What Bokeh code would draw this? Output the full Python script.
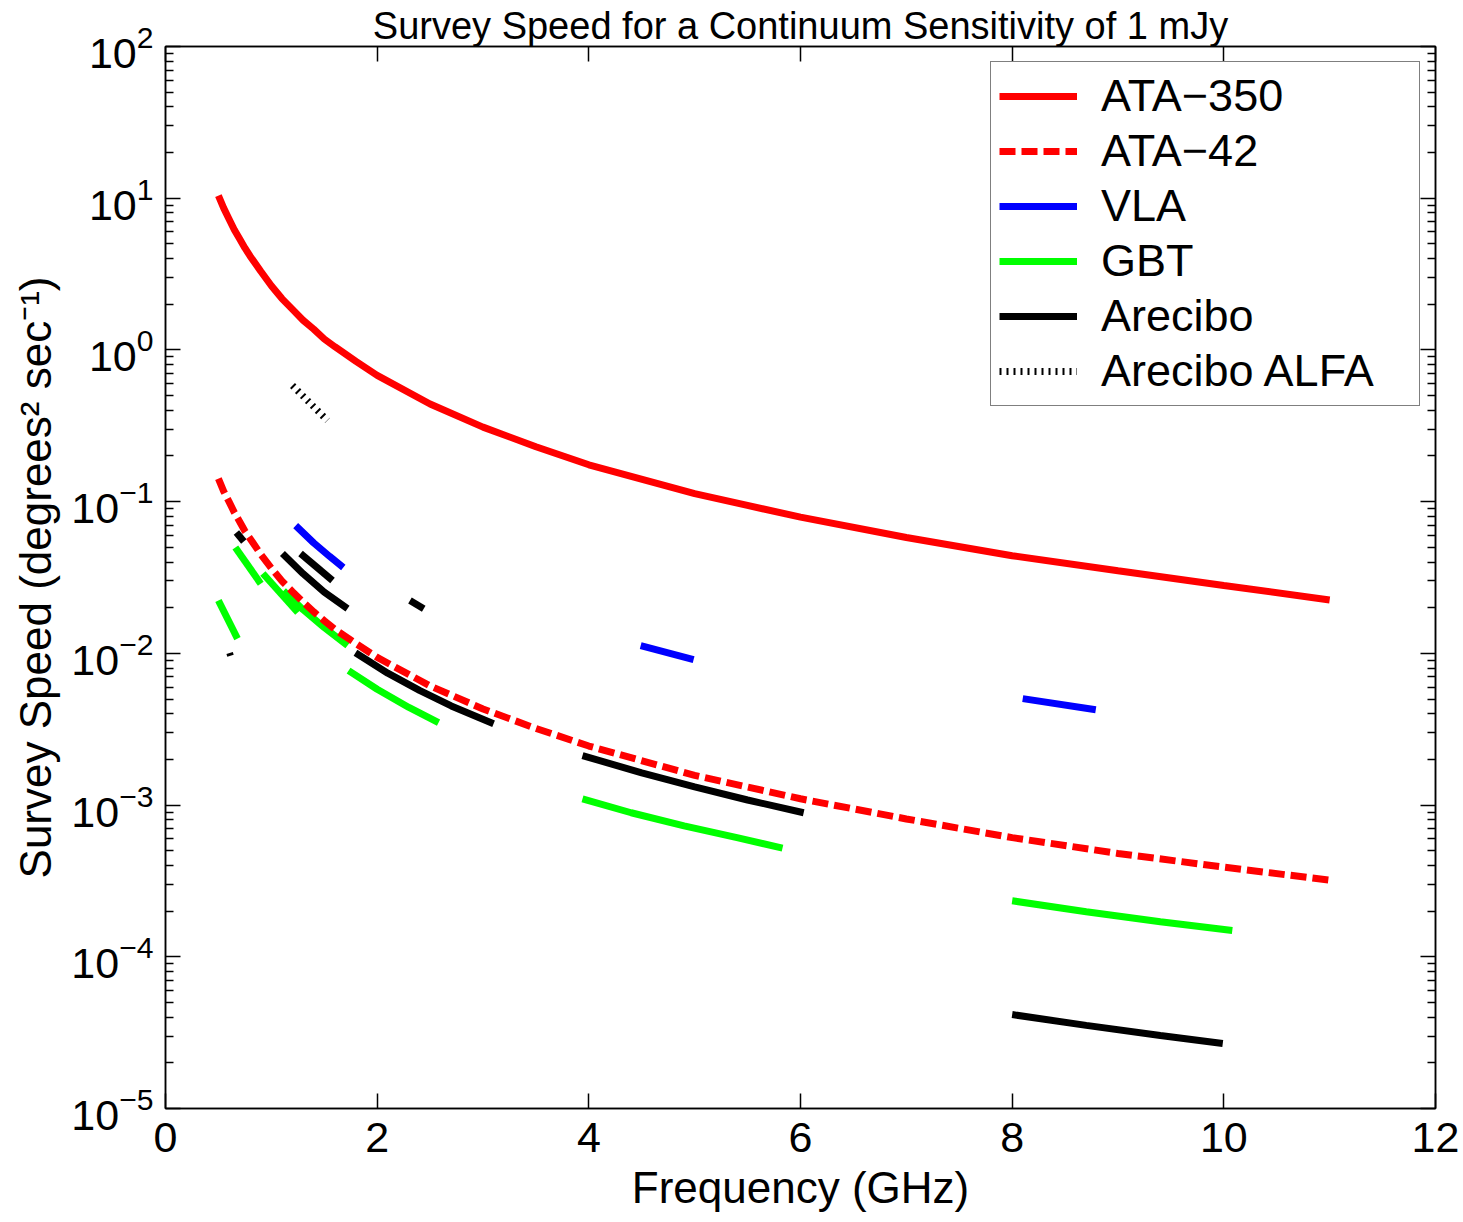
from bokeh.plotting import figure
from bokeh.models import LinearAxis, LogAxis, FixedTicker, Legend, LegendItem, Range1d
from bokeh.embed import file_html
from bokeh.resources import INLINE

FONT = "Liberation Sans"

title_text = "Survey Speed for a Continuum Sensitivity of 1 mJy"
x_label = "Frequency (GHz)"
y_label = "Survey Speed (degrees\u00b2 sec\u207b\u00b9)"
x_ticks = [0, 2, 4, 6, 8, 10, 12]
y_decades = [-5, -4, -3, -2, -1, 0, 1, 2]

ata350_freq = [0.5, 0.55, 0.6, 0.65, 0.7, 0.75, 0.8, 0.9, 1.0, 1.1, 1.2, 1.3, 1.4, 1.5, 1.6, 1.8,
               2.0, 2.5, 3.0, 3.5, 4.0, 5.0, 6.0, 7.0, 8.0, 9.0, 10.0, 11.0]
ata350_speed = [10.4, 8.6, 7.3, 6.2, 5.4, 4.7, 4.15, 3.3, 2.65, 2.18, 1.85, 1.57, 1.37, 1.18, 1.05,
                0.84, 0.68, 0.44, 0.31, 0.23, 0.175, 0.113, 0.079, 0.058, 0.044, 0.035, 0.028, 0.0225]

ata42_freq = [0.5, 0.55, 0.6, 0.65, 0.7, 0.75, 0.8, 0.9, 1.0, 1.1, 1.2, 1.3, 1.4, 1.5, 1.6, 1.8,
              2.0, 2.5, 3.0, 3.5, 4.0, 5.0, 6.0, 7.0, 8.0, 9.0, 10.0, 11.0]
ata42_speed = [0.142, 0.117, 0.100, 0.085, 0.074, 0.064, 0.057, 0.045, 0.0365, 0.030, 0.0255,
               0.0218, 0.0188, 0.0164, 0.0144, 0.0116, 0.0094, 0.0061, 0.0043, 0.0032, 0.00245,
               0.00157, 0.00110, 0.00081, 0.00061, 0.00048, 0.00039, 0.00032]

vla_freq = [[1.23, 1.4, 1.55, 1.68], [4.49, 4.99], [8.10, 8.79]]
vla_speed = [[0.0695, 0.0535, 0.0436, 0.0368], [0.01125, 0.0091], [0.00503, 0.00425]]

gbt_freq = [[0.50, 0.68], [0.66, 0.90], [0.92, 1.25], [1.115, 1.3, 1.5, 1.72],
            [1.73, 2.0, 2.3, 2.58], [3.94, 4.4, 4.9, 5.4, 5.83], [8.0, 8.7, 9.4, 10.08]]
gbt_speed = [[0.0223, 0.0125], [0.0498, 0.0288], [0.0336, 0.0186], [0.0259, 0.0194, 0.0148, 0.01125],
             [0.0077, 0.0058, 0.0044, 0.0035], [0.0011, 0.00089, 0.00073, 0.00061, 0.00052],
             [2.34e-4, 1.98e-4, 1.70e-4, 1.49e-4]]

arecibo_freq = [[0.67, 0.74], [1.105, 1.3, 1.5, 1.72], [1.276, 1.578], [2.31, 2.44],
                [1.795, 2.1, 2.4, 2.7, 3.10], [3.94, 4.5, 5.0, 5.5, 6.03], [8.0, 8.7, 9.4, 9.99]]
arecibo_speed = [[0.0625, 0.0546], [0.0455, 0.0335, 0.0253, 0.0197], [0.0455, 0.0302], [0.0223, 0.0197],
                 [0.0101, 0.0074, 0.0057, 0.0045, 0.00344], [0.00212, 0.00163, 0.00132, 0.00108, 0.00089],
                 [4.16e-5, 3.53e-5, 3.03e-5, 2.68e-5]]

arecibo_low_freq = [0.58, 0.64]
arecibo_low_speed = [0.0097, 0.0100]

alfa_freq = [1.20, 1.53]
alfa_speed = [0.582, 0.343]

p = figure(width=1460, height=1220, x_axis_type="linear", y_axis_type="log",
           x_range=Range1d(0, 12), y_range=Range1d(1e-5, 1e2),
           output_backend="svg", toolbar_location=None,
           min_border_left=165, min_border_right=25, min_border_top=46, min_border_bottom=112)
p.xgrid.visible = False
p.ygrid.visible = False
p.outline_line_color = "black"
p.outline_line_width = 1.5
p.background_fill_color = "white"
p.border_fill_color = "white"

p.title.text = title_text
p.title.text_font = FONT
p.title.text_font_size = "38px"
p.title.text_font_style = "normal"
p.title.text_color = "black"
p.title.align = "center"
p.title.standoff = 0
p.title.offset = 0

y_major = [10.0 ** d for d in y_decades]
y_minor = [m * 10.0 ** d for d in y_decades[:-1] for m in range(2, 10)]


def style_axis(ax, show_labels):
    ax.axis_line_color = "black"
    ax.axis_line_width = 1.5
    ax.major_tick_in = 15
    ax.major_tick_out = 0
    ax.minor_tick_in = 8
    ax.minor_tick_out = 0
    ax.major_tick_line_color = "black"
    ax.minor_tick_line_color = "black"
    ax.major_tick_line_width = 1.5
    ax.minor_tick_line_width = 1.5
    ax.major_label_text_font = FONT
    ax.major_label_text_color = "black"
    ax.axis_label_text_font = FONT
    ax.axis_label_text_font_style = "normal"
    ax.axis_label_text_color = "black"
    if show_labels:
        ax.major_label_text_font_size = "43px"
        ax.axis_label_text_font_size = "44px"
    else:
        ax.major_label_text_font_size = "1px"
        ax.major_label_text_alpha = 0
        ax.major_label_standoff = 0


xax = p.xaxis[0]
xax.ticker = FixedTicker(ticks=x_ticks)
xax.axis_label = x_label
style_axis(xax, True)
xax.major_label_standoff = 14
xax.axis_label_standoff = 8

yax = p.yaxis[0]
yax.ticker = FixedTicker(ticks=y_major, minor_ticks=y_minor)
yax.axis_label = y_label
style_axis(yax, True)
yax.major_label_standoff = 12
yax.axis_label_standoff = 8

top_ax = LinearAxis(ticker=FixedTicker(ticks=x_ticks))
style_axis(top_ax, False)
p.add_layout(top_ax, "above")

right_ax = LogAxis(ticker=FixedTicker(ticks=y_major, minor_ticks=y_minor))
style_axis(right_ax, False)
p.add_layout(right_ax, "right")

LW = 7
r_gbt = p.multi_line(gbt_freq, gbt_speed, line_color="#00ff00", line_width=LW)
r_are = p.multi_line(arecibo_freq, arecibo_speed, line_color="black", line_width=LW)
p.line(arecibo_low_freq, arecibo_low_speed, line_color="black", line_width=3)
r_vla = p.multi_line(vla_freq, vla_speed, line_color="#0000ff", line_width=LW)
r_alfa = p.line(alfa_freq, alfa_speed, line_color="black", line_width=7, line_dash="2 5")
r_ata42 = p.line(ata42_freq, ata42_speed, line_color="#ff0000", line_width=LW, line_dash="16 6")
r_ata350 = p.line(ata350_freq, ata350_speed, line_color="#ff0000", line_width=LW)

legend = Legend(items=[
    LegendItem(label="ATA\u2212350", renderers=[r_ata350]),
    LegendItem(label="ATA\u221242", renderers=[r_ata42]),
    LegendItem(label="VLA", renderers=[r_vla]),
    LegendItem(label="GBT", renderers=[r_gbt]),
    LegendItem(label="Arecibo", renderers=[r_are]),
    LegendItem(label="Arecibo ALFA", renderers=[r_alfa]),
], location="top_right")
legend.margin = 15
legend.padding = 8
legend.spacing = 3
legend.glyph_height = 48
legend.label_height = 48
legend.glyph_width = 78
legend.label_standoff = 24
legend.label_width = 310
legend.label_text_font = FONT
legend.label_text_font_size = "45px"
legend.label_text_color = "black"
legend.border_line_color = "black"
legend.border_line_width = 1.5
legend.background_fill_color = "white"
legend.background_fill_alpha = 1.0
p.add_layout(legend, "center")

open("out.html", "w").write(file_html(p, INLINE))
